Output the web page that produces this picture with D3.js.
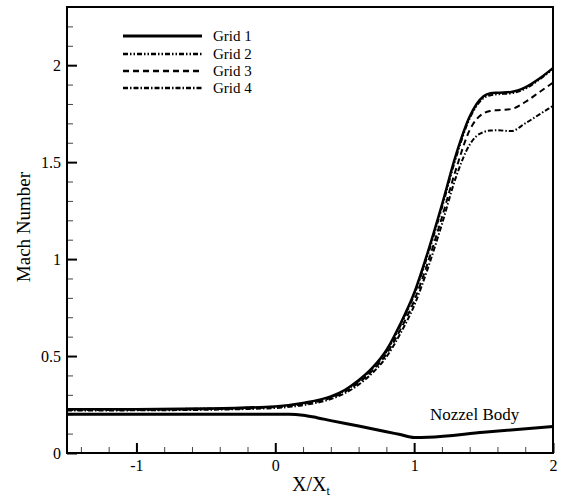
<!DOCTYPE html>
<html>
<head>
<meta charset="utf-8">
<script src="https://cdn.jsdelivr.net/npm/d3@7"></script>
<style>
  body { margin: 0; background: #fff; }
  text { font-family: "Liberation Serif", "DejaVu Serif", serif; fill: #000; }
</style>
</head>
<body>
<svg width="563" height="499"></svg>
<script>
// x positions shared by the four grid curves
var machX = [-1.5, -1.0, -0.5, 0, 0.2, 0.4, 0.5, 0.6, 0.7, 0.8, 0.9, 1.0, 1.1, 1.2, 1.3, 1.4, 1.45, 1.5, 1.55, 1.6, 1.7, 1.8, 1.9, 2.0];
var grid1 = [0.225, 0.226, 0.229, 0.240, 0.258, 0.292, 0.325, 0.375, 0.440, 0.530, 0.665, 0.825, 1.040, 1.280, 1.535, 1.735, 1.800, 1.840, 1.855, 1.858, 1.862, 1.885, 1.930, 1.985];
var grid2 = [0.225, 0.226, 0.229, 0.239, 0.256, 0.289, 0.321, 0.370, 0.434, 0.523, 0.655, 0.815, 1.025, 1.265, 1.520, 1.725, 1.790, 1.830, 1.845, 1.850, 1.855, 1.878, 1.925, 1.980];
var grid3 = [0.222, 0.223, 0.226, 0.236, 0.252, 0.284, 0.315, 0.362, 0.425, 0.510, 0.635, 0.785, 0.985, 1.215, 1.460, 1.665, 1.722, 1.752, 1.764, 1.768, 1.774, 1.810, 1.860, 1.910];
var grid4 = [0.219, 0.220, 0.223, 0.232, 0.247, 0.278, 0.308, 0.352, 0.413, 0.495, 0.615, 0.760, 0.955, 1.180, 1.420, 1.590, 1.635, 1.655, 1.663, 1.664, 1.660, 1.700, 1.745, 1.790];

// nozzle wall shape (drawn on the same axes)
var nozX = [-1.5, 0, 0.1, 0.2, 0.3, 0.4, 0.6, 0.8, 0.9, 1.0, 1.1, 1.5, 2.0];
var nozY = [0.2, 0.2, 0.2, 0.195, 0.182, 0.167, 0.139, 0.110, 0.095, 0.080, 0.081, 0.107, 0.137];

var legendNames = ["Grid 1", "Grid 2", "Grid 3", "Grid 4"];
var xMajor = [-1, 0, 1, 2];
var xMinor = [-1.4, -1.2, -0.8, -0.6, -0.4, -0.2, 0.2, 0.4, 0.6, 0.8, 1.2, 1.4, 1.6, 1.8];
var yMajor = [0, 0.5, 1, 1.5, 2];
var yMinor = [0.1, 0.2, 0.3, 0.4, 0.6, 0.7, 0.8, 0.9, 1.1, 1.2, 1.3, 1.4, 1.6, 1.7, 1.8, 1.9, 2.1, 2.2];

var svg = d3.select("svg");
var pLeft = 67, pRight = 553, pTop = 7, pBottom = 453;

var xScale = d3.scaleLinear().domain([-1.5, 2]).range([pLeft, pRight]);
var yScale = d3.scaleLinear().domain([0, 2.3]).range([pBottom, pTop]);

// minor ticks first (thin), then major
svg.append("g")
   .attr("transform", "translate(0," + pBottom + ")")
   .call(d3.axisBottom(xScale).tickValues(xMinor).tickSize(-6).tickFormat(""))
   .call(g => g.select(".domain").remove())
   .selectAll("line").attr("stroke-width", 1).attr("stroke", "#444");

svg.append("g")
   .attr("transform", "translate(0," + pBottom + ")")
   .call(d3.axisBottom(xScale).tickValues(xMajor).tickSize(-10).tickPadding(7).tickFormat(d => String(d)))
   .call(g => g.select(".domain").remove())
   .call(g => g.selectAll("line").attr("stroke-width", 2))
   .selectAll("text").attr("font-size", "16px")
   .style("font-family", "Liberation Serif");

svg.append("g")
   .attr("transform", "translate(" + pLeft + ",0)")
   .call(d3.axisLeft(yScale).tickValues(yMinor).tickSize(-6).tickFormat(""))
   .call(g => g.select(".domain").remove())
   .selectAll("line").attr("stroke-width", 1).attr("stroke", "#444");

svg.append("g")
   .attr("transform", "translate(" + pLeft + ",0)")
   .call(d3.axisLeft(yScale).tickValues(yMajor).tickSize(-10).tickPadding(6).tickFormat(d => String(d)))
   .call(g => g.select(".domain").remove())
   .call(g => g.selectAll("line").attr("stroke-width", 2))
   .selectAll("text").attr("font-size", "16px")
   .style("font-family", "Liberation Serif");

// frame
svg.append("rect")
   .attr("x", pLeft).attr("y", pTop)
   .attr("width", pRight - pLeft).attr("height", pBottom - pTop)
   .attr("fill", "none").attr("stroke", "black").attr("stroke-width", 2);

var line = d3.line()
    .x(d => xScale(d[0]))
    .y(d => yScale(d[1]))
    .curve(d3.curveMonotoneX);

var series = [grid1, grid2, grid3, grid4];
var dashes = [null, "5,2,1.5,2,1.5,2", "6,4", "5,2,1.5,2"];
var widths = [2.5, 2, 2, 2];

// nozzle wall
svg.append("path")
   .datum(nozX.map((x, i) => [x, nozY[i]]))
   .attr("d", line)
   .attr("fill", "none").attr("stroke", "black").attr("stroke-width", 3);

for (let i = series.length - 1; i >= 0; i--) {
    svg.append("path")
       .datum(machX.map((x, j) => [x, series[i][j]]))
       .attr("d", line)
       .attr("fill", "none")
       .attr("stroke", "black")
       .attr("stroke-width", widths[i])
       .attr("stroke-dasharray", dashes[i]);
}

// legend
var legY = [36, 54, 71, 88];
for (let i = 0; i < legendNames.length; i++) {
    svg.append("line")
       .attr("x1", 123).attr("x2", 202)
       .attr("y1", legY[i]).attr("y2", legY[i])
       .attr("stroke", "black")
       .attr("stroke-width", i == 0 ? 3 : 2.5)
       .attr("stroke-dasharray", dashes[i]);
    svg.append("text")
       .attr("x", 213).attr("y", legY[i] + 5)
       .attr("font-size", "15px")
       .text(legendNames[i]);
}

svg.append("text")
   .attr("x", 430).attr("y", 420)
   .attr("font-size", "17px")
   .text("Nozzel Body");

// axis titles
var xt = svg.append("text")
   .attr("x", 292).attr("y", 491)
   .attr("font-size", "20px");
xt.append("tspan").text("X/X");
xt.append("tspan").attr("dy", 4).attr("font-size", "12px").text("t");

svg.append("text")
   .attr("transform", "translate(30,227) rotate(-90)")
   .attr("text-anchor", "middle")
   .attr("font-size", "19px")
   .text("Mach Number");
</script>
</body>
</html>
